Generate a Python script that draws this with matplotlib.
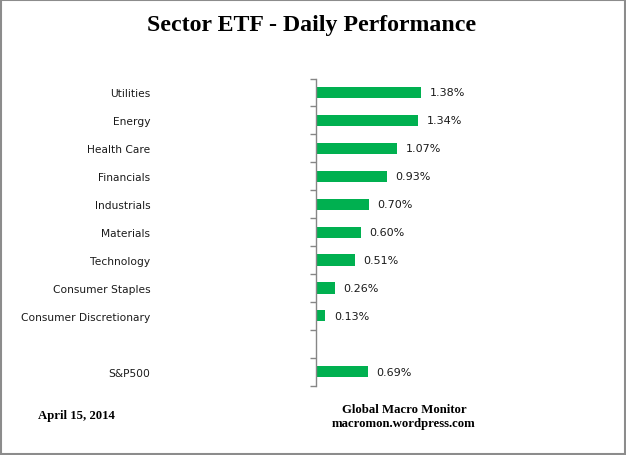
import matplotlib
matplotlib.use("Agg")
import matplotlib.pyplot as plt
import numpy as np

sectors = ["Utilities", "Energy", "Health Care", "Financials", "Industrials",
           "Materials", "Technology", "Consumer Staples", "Consumer Discretionary",
           "", "S&P500"]
values = [1.38, 1.34, 1.07, 0.93, 0.70, 0.60, 0.51, 0.26, 0.13, np.nan, 0.69]
labels = ["1.38%", "1.34%", "1.07%", "0.93%", "0.70%", "0.60%", "0.51%",
          "0.26%", "0.13%", "", "0.69%"]

title = "Sector ETF - Daily Performance"
date_text = "April 15, 2014"
source_text = "Global Macro Monitor\nmacromon.wordpress.com"

green = "#00B050"
axis_grey = "#868686"

fig = plt.figure(figsize=(6.26, 4.56), dpi=100)
ax = fig.add_axes([315.5 / 626, 69.3 / 456, 284.5 / 626, 307.2 / 456])

pos = np.arange(len(sectors))
ax.barh(pos, values, height=0.4, color=green)

for p, v, lab in zip(pos, values, labels):
    if lab:
        ax.annotate(lab, xy=(v, p), xytext=(6, 0), textcoords="offset points",
                    va="center", ha="left", fontsize=8, color="#1a1a1a")

ax.set_xlim(0, 284.5 / 76.5)
ax.set_ylim(len(sectors) - 0.5, -0.5)

for s in ["top", "right", "bottom"]:
    ax.spines[s].set_visible(False)
ax.spines["left"].set_color(axis_grey)
ax.spines["left"].set_linewidth(1)
ax.set_xticks([])

ax.set_yticks(pos)
ax.set_yticklabels(sectors, fontsize=7.7, color="#1a1a1a")
ax.tick_params(axis="y", which="major", length=0, pad=119)
ax.set_yticks(np.arange(-0.5, len(sectors)), minor=True)
ax.tick_params(axis="y", which="minor", length=4, color=axis_grey, width=1)

fig.text(312 / 626, 1 - 25 / 456, title, ha="center", va="center",
         fontsize=17.2, fontweight="bold", family="Liberation Serif")
fig.text(76 / 626, 1 - 416 / 456, date_text, ha="center", va="center",
         fontsize=9.2, fontweight="bold", family="Liberation Serif")
fig.text(404 / 626, 1 - 417 / 456, source_text, ha="center", va="center",
         fontsize=9.2, fontweight="bold", family="Liberation Serif", linespacing=1.3)

border = plt.Rectangle((0.0008, 0.0011), 0.9984, 0.9978, transform=fig.transFigure,
                       fill=False, edgecolor="#8c8c8c", linewidth=1.5)
fig.patches.append(border)

fig.savefig("out.png", dpi=100)
